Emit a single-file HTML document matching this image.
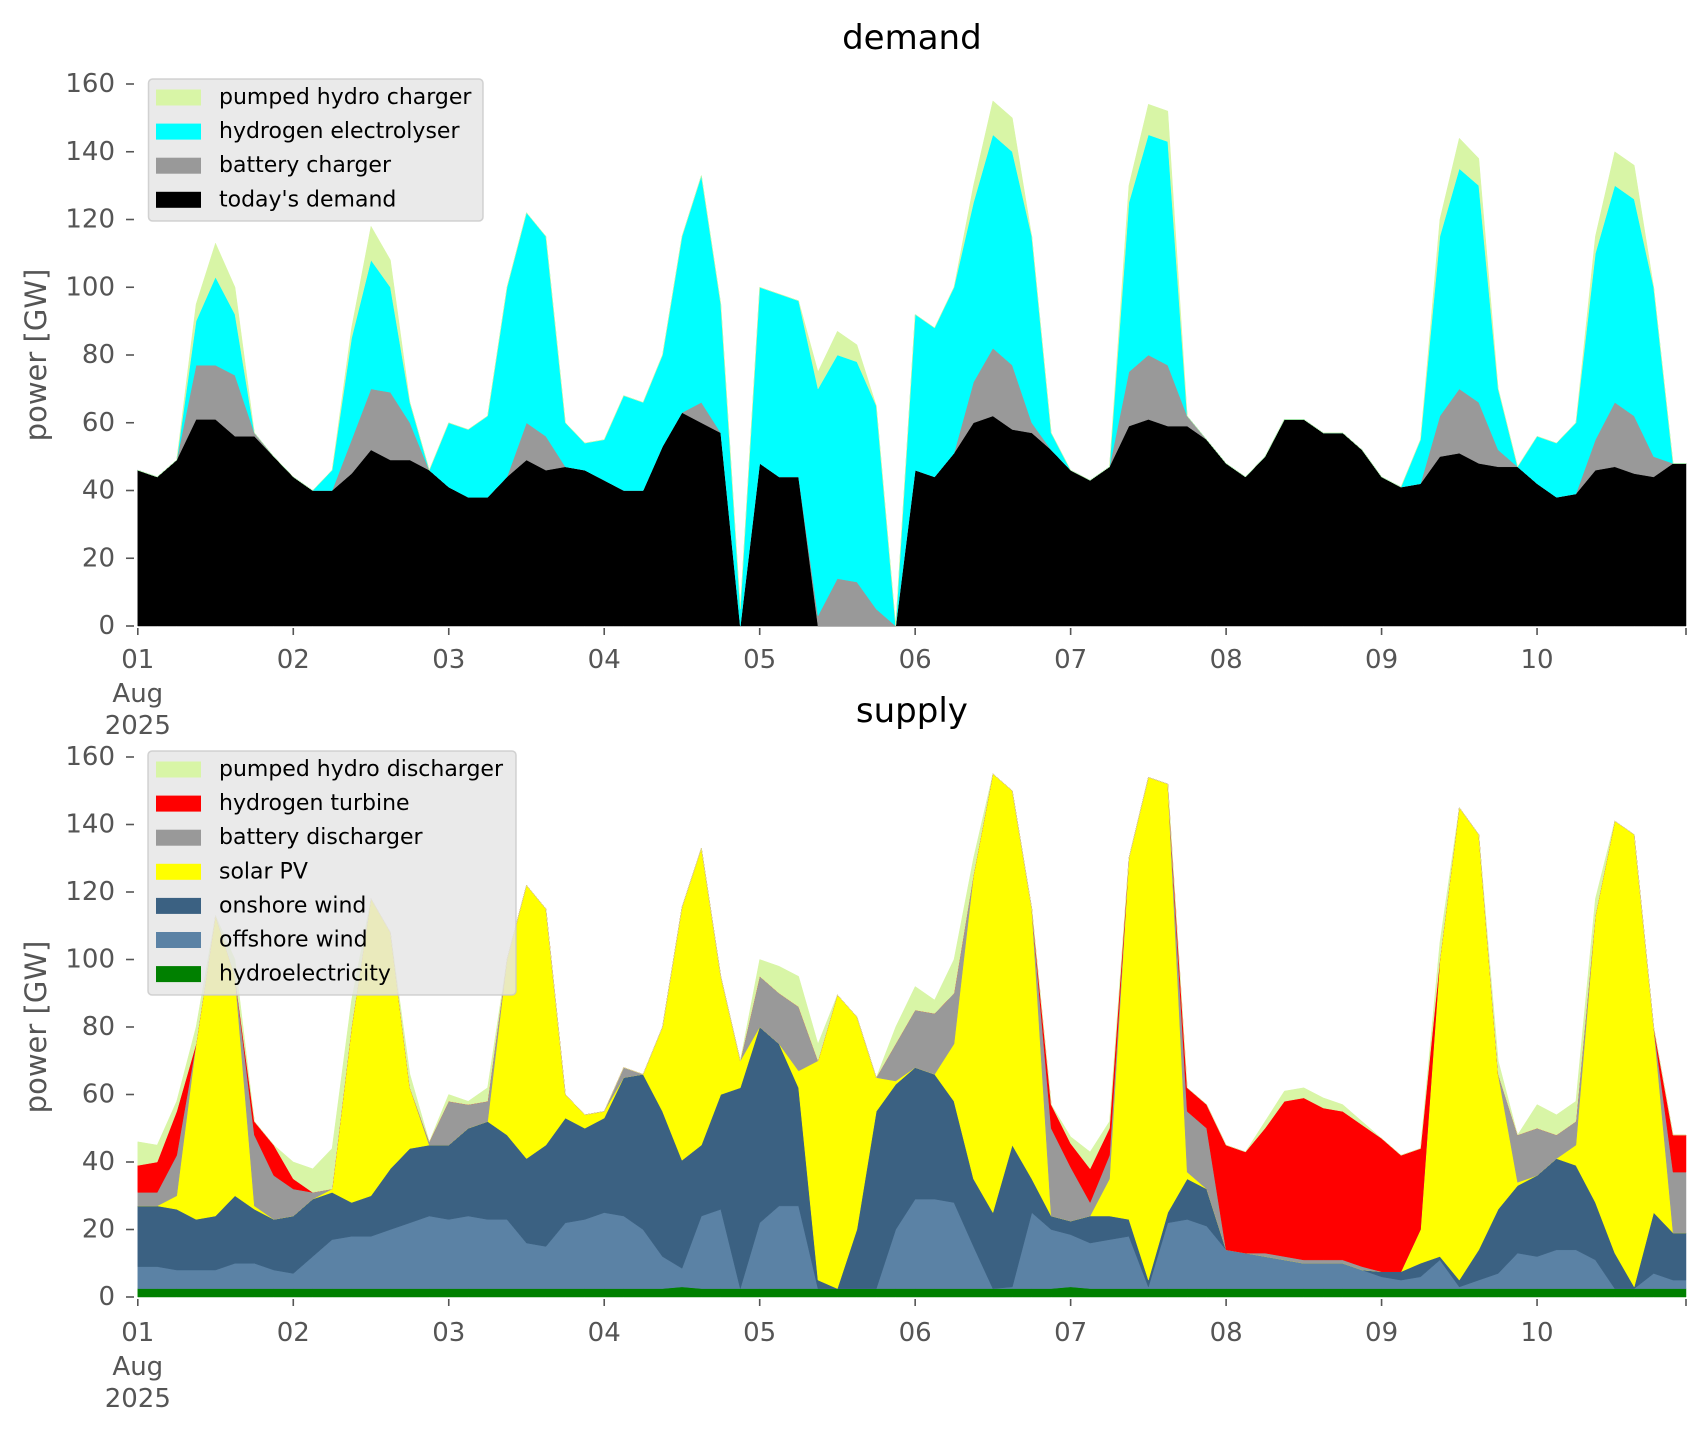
<!DOCTYPE html>
<html><head><meta charset="utf-8"><style>
html,body{margin:0;padding:0;background:#fff;}
svg{display:block;font-family:"DejaVu Sans","Liberation Sans",sans-serif;}
</style></head><body>
<svg id="chart" width="1706" height="1431" viewBox="0 0 1706 1431" xmlns="http://www.w3.org/2000/svg">
<g id="top"></g>
<g id="bot"></g>
</svg>
<script>
// time points: every 3 hours from 01 Aug 00:00 (index i -> day i/8)
const dayLabels = ["01","02","03","04","05","06","07","08","09","10"];
const yTicks = [0,20,40,60,80,100,120,140,160];

// ---- demand series (GW) ----
const todaysDemand = [46,44,49,61,61,56,56,50, 44,40,40,45,52,49,49,46, 41,38,38,44,49,46,47,46, 43,40,40,53,63,60,57,0, 48,44,44,0,0,0,0,0, 46,44,51,60,62,58,57,52, 46,43,47,59,61,59,59,55, 48,44,50,61,61,57,57,52, 44,41,42,50,51,48,47,47, 42,38,39,46,47,45,44,48];
const batteryCharger = [0,0,0,16,16,18,1,0, 0,0,0,10,18,20,11,0, 0,0,0,0,11,10,0,0, 0,0,0,0,0,6,0,0, 0,0,0,3,14,13,5,0, 0,0,0,12,20,19,3,0, 0,0,0,16,19,18,3,0, 0,0,0,0,0,0,0,0, 0,0,0,12,19,18,5,0, 0,0,0,9,19,17,6,0];
const electrolyser = [0,0,0,13,26,18,0,0, 0,0,6,30,38,31,6,0, 19,20,24,56,62,59,13,8, 12,28,26,27,52,67,38,5, 52,54,52,67,66,65,60,0, 46,44,49,53,63,63,55,5, 0,0,0,50,65,66,0,0, 0,0,0,0,0,0,0,0, 0,0,13,53,65,64,18,0, 14,16,21,55,64,64,50,0];
const pumpedCharger = [0,0,0,5,10,8,0,0, 0,0,0,3,10,8,0,0, 0,0,0,0,0,0,0,0, 0,0,0,0,0,0,0,0, 0,0,0,5,7,5,0,0, 0,0,0,5,10,10,0,0, 0,0,0,5,9,9,0,0, 0,0,0,0,0,0,0,0, 0,0,0,5,9,8,0,0, 0,0,0,5,10,10,0,0];

// ---- supply series (GW) ----
const hydro = [2.5,2.5,2.5,2.5,2.5,2.5,2.5,2.5, 2.5,2.5,2.5,2.5,2.5,2.5,2.5,2.5, 2.5,2.5,2.5,2.5,2.5,2.5,2.5,2.5, 2.5,2.5,2.5,2.5,3,2.5,2.5,2.5, 2.5,2.5,2.5,2.5,2.5,2.5,2.5,2.5, 2.5,2.5,2.5,2.5,2.5,2.5,2.5,2.5, 3,2.5,2.5,2.5,2.5,2.5,2.5,2.5, 2.5,2.5,2.5,2.5,2.5,2.5,2.5,2.5, 2.5,2.5,2.5,2.5,2.5,2.5,2.5,2.5, 2.5,2.5,2.5,2.5,2.5,2.5,2.5,2.5];
const offshore = [6.5,6.5,5.5,5.5,5.5,7.5,7.5,5.5, 4.5,9.5,14.5,15.5,15.5,17.5,19.5,21.5, 20.5,21.5,20.5,20.5,13.5,12.5,19.5,20.5, 22.5,21.5,17.5,9.5,5.5,21.5,23.5,0, 19.5,24.5,24.5,0,0,0,0,17.5, 26.5,26.5,25.5,12.5,0,0.5,22.5,17.5, 15.5,13.5,14.5,15.5,0.5,19.5,20.5,18.5, 11.5,10.5,9.5,8.5,7.5,7.5,7.5,5.5, 3.5,2.5,3.5,8.5,0.5,2.5,4.5,10.5, 9.5,11.5,11.5,8.5,0,0,4.5,2.5];
const onshore = [18,18,18,15,16,20,16,15, 17,17,14,10,12,18,22,21, 22,26,29,25,25,30,31,27, 28,41,46,43,32,21,34,59.5, 58,48,35,2.5,0,17.5,52.5,43, 39,37,30,20,22.5,42,10,4, 4,8,7,5,2,3,12,11, 0,0,0,0,0,0,0,0, 1.5,2.5,4,1,2,9,19,20, 24,27,25,17,10.5,0.5,18,14];
const solar = [0,0,4,52,89,65,1,0, 0,0,1,52,88,70,18,0, 0,0,0,52,81,70,7,4, 2,0,0,25,75,88,35,8, 0,0,5,65,87,63,10,1, 0,0,17,90,130,105,80,0, 0,0,11,107,149,127,2,0, 0,0,0,0,0,0,0,0, 0,0,10,88,140,123,40,1, 0,0,6,85,128,134,55,0];
const batteryDischarger = [4,4,12,0,0,0,21,13, 8,2,0,0,0,0,0,1, 13,7,6,0,0,0,0,0, 0,3,0,0,0,0,0,0, 15,15,19,0,0,0,0,11, 17,18,15,0,0,0,0,26, 16,4,7,0,0,0,18,18, 0,0,1,1,1,1,1,1, 0,0,0,0,0,0,0,14, 14,7,7,0,0,0,0,18];
const h2Turbine = [8,9,13,0,0,0,4,9, 3,0,0,0,0,0,0,0, 0,0,0,0,0,0,0,0, 0,0,0,0,0,0,0,0, 0,0,0,0,0,0,0,0, 0,0,0,0,0,0,0,7, 7,10,8,0,0,0,7,7, 31,30,37,46,48,45,44,42, 39.5,34.5,24,0,0,0,0,0, 0,0,0,0,0,0,0,11];
const pumpedDischarger = [7,5,3,5,0,5,0,0, 5,7,12,8,0,0,4,0, 2,1,4,0,0,0,0,0, 0,0,0,0,0,0,0,0, 5,8,9,5,0,0,0,5, 7,4,10,5,0,0,0,0, 2,5,2,0,0,0,0,0, 0,0,2,3,3,3,2,1, 0,0,0,5,0,0,4,0, 7,6,6,5,0,0,0,0];

const NS="http://www.w3.org/2000/svg";
const X0=137.8, X1=1686, DMAX=9.958;
function xs(d){return X0+(X1-X0)*d/DMAX;}
function mk(tag,attrs,parent){const e=document.createElementNS(NS,tag);for(const k in attrs)e.setAttribute(k,attrs[k]);parent.appendChild(e);return e;}

function panel(g,y0,y160,title,titleY,layers,legendBox,tickY){
  const ys=v=>y0+(y160-y0)*v/160;
  const n=layers[0].data.length;
  let base=new Array(n).fill(0);
  layers.forEach(L=>{
    const top=base.map((b,i)=>b+L.data[i]);
    const pts=[];
    for(let i=0;i<n;i++)pts.push([xs(i/8),ys(top[i])]);
    pts.push([xs(DMAX),ys(top[n-1])]);
    const bp=[];
    bp.push([xs(DMAX),ys(base[n-1])]);
    for(let i=n-1;i>=0;i--)bp.push([xs(i/8),ys(base[i])]);
    const d="M"+pts.concat(bp).map(p=>p[0].toFixed(1)+","+p[1].toFixed(1)).join("L")+"Z";
    const p=mk("path",{d:d,fill:L.color,stroke:L.color,"stroke-width":0.5},g);
    
    
    base=top;
  });
  yTicks.forEach(v=>{
    const y=ys(v);
    const t=mk("line",{x1:126,x2:134,y1:y,y2:y,stroke:"#555","stroke-width":1.6},g);
    
    
    const l=mk("text",{x:115,y:y,"text-anchor":"end","dominant-baseline":"central","font-size":26,fill:"#555"},g);
    
    
    l.textContent=v;
  });
  dayLabels.forEach((s,i)=>{
    const x=xs(i);
    const t=mk("line",{x1:x,x2:x,y1:y0+2,y2:y0+9,stroke:"#555","stroke-width":1.6},g);
    
    
    const l=mk("text",{x:x,y:tickY,"text-anchor":"middle","dominant-baseline":"central","font-size":26,fill:"#555"},g);
    
    
    l.textContent=s;
  });
  const te=mk("line",{x1:X1,x2:X1,y1:y0+2,y2:y0+9,stroke:"#555","stroke-width":1.6},g);
  
  
  [["Aug",tickY+34],["2025",tickY+66]].forEach(a=>{
    const l=mk("text",{x:xs(0),y:a[1],"text-anchor":"middle","dominant-baseline":"central","font-size":26,fill:"#555"},g);
    
    
    l.textContent=a[0];
  });
  const yl=mk("text",{x:0,y:0,transform:`translate(36,${(y0+y160)/2}) rotate(-90)`,"text-anchor":"middle","dominant-baseline":"central","font-size":29,fill:"#555"},g);
  
  
  yl.textContent="power [GW]";
  const tt=mk("text",{x:(X0+X1)/2,y:titleY,"text-anchor":"middle","dominant-baseline":"central","font-size":34,fill:"#000"},g);
  
  
  tt.textContent=title;
  const lg=mk("g",{},g);
  
  
  mk("rect",{x:legendBox.x,y:legendBox.y,width:legendBox.w,height:legendBox.h,rx:4,fill:"rgba(229,229,229,0.82)",stroke:"rgba(200,200,200,0.8)","stroke-width":1.5},lg);
  const rev=layers.slice().reverse();
  rev.forEach((L,k)=>{
    const cy=legendBox.y0+k*34.1;
    const e=mk("g",{},lg);
    
    
    mk("rect",{x:156,y:cy-8,width:45,height:16,fill:L.color},e);
    const t=mk("text",{x:219,y:cy,"dominant-baseline":"central","font-size":22,fill:"#000"},e);
    t.textContent=L.label;
  });
}

panel(document.getElementById("top"),626,84,"demand",38,[
  {name:"todays-demand",label:"today's demand",color:"#000000",data:todaysDemand},
  {name:"battery-charger",label:"battery charger",color:"#999999",data:batteryCharger},
  {name:"hydrogen-electrolyser",label:"hydrogen electrolyser",color:"#00ffff",data:electrolyser},
  {name:"pumped-hydro-charger",label:"pumped hydro charger",color:"#d8f5a6",data:pumpedCharger}
],{x:148.5,y:79,w:334.5,h:142,y0:97.5},660);

panel(document.getElementById("bot"),1297,757,"supply",711,[
  {name:"hydroelectricity",label:"hydroelectricity",color:"#008000",data:hydro},
  {name:"offshore-wind",label:"offshore wind",color:"#5b82a5",data:offshore},
  {name:"onshore-wind",label:"onshore wind",color:"#3b6182",data:onshore},
  {name:"solar-pv",label:"solar PV",color:"#ffff00",data:solar},
  {name:"battery-discharger",label:"battery discharger",color:"#999999",data:batteryDischarger},
  {name:"hydrogen-turbine",label:"hydrogen turbine",color:"#ff0000",data:h2Turbine},
  {name:"pumped-hydro-discharger",label:"pumped hydro discharger",color:"#d8f5a6",data:pumpedDischarger}
],{x:148,y:751,w:368,h:244,y0:769.5},1333);
</script>
</body></html>
